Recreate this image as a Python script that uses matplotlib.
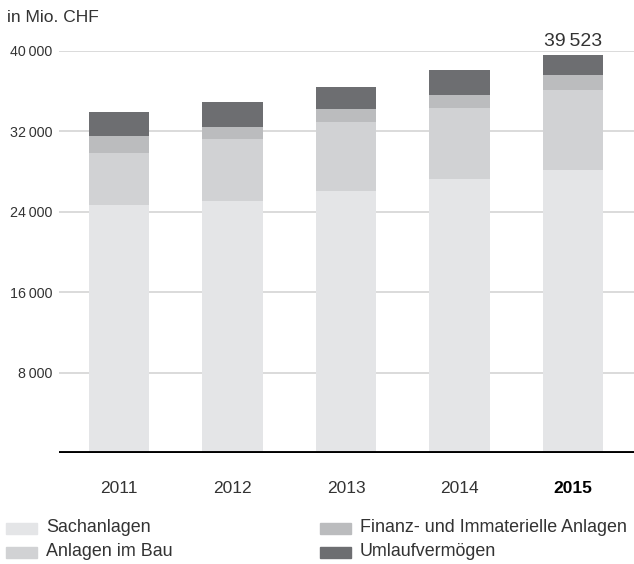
import matplotlib
matplotlib.use('Agg')
import matplotlib.pyplot as plt
from matplotlib.patches import Rectangle
import numpy as np

plt.rcParams['font.family'] = ['Liberation Sans', 'DejaVu Sans']

# Werte in Mio. CHF
jahre = ['2011', '2012', '2013', '2014', '2015']
sachanlagen = [24650, 25050, 26040, 27240, 28130]
anlagen_im_bau = [5170, 6160, 6860, 7080, 7950]
finanz_immat = [1690, 1190, 1290, 1270, 1490]
umlaufvermoegen = [2390, 2490, 2190, 2480, 1953]

serien = ['Sachanlagen', 'Anlagen im Bau', 'Finanz- und Immaterielle Anlagen', 'Umlaufvermögen']
farben = ['#e4e5e7', '#d1d2d4', '#bbbcbe', '#6d6e71']
y_ticks = [8000, 16000, 24000, 32000, 40000]

textfarbe = '#333333'

fig = plt.figure(figsize=(6.34, 5.64), dpi=100)
ax = fig.add_axes([59 / 634, 1 - 453 / 564, 1 - 59 / 634, (453 - 50.7) / 564])

x = np.arange(len(jahre))
unten = np.zeros(len(jahre))
for werte, farbe in zip([sachanlagen, anlagen_im_bau, finanz_immat, umlaufvermoegen], farben):
    ax.bar(x, werte, width=0.53, bottom=unten, color=farbe, zorder=2)
    unten += np.array(werte)

ax.set_xlim(-0.529, 4.537)
ax.set_ylim(0, 40000)

# Gitternetz und Grundlinie
for yt in y_ticks:
    ax.axhline(yt, color='#d4d4d4', lw=1.2, zorder=1)
ax.axhline(0, color='black', lw=2.8, zorder=3)

for s in ax.spines.values():
    s.set_visible(False)

ax.set_yticks(y_ticks)
ax.set_yticklabels([f'{v:,}'.replace(',', '\u2009') for v in y_ticks], fontsize=10.3, color=textfarbe)
ax.set_xticks(x)
ax.set_xticklabels(jahre, fontsize=12.5, color=textfarbe)
ax.get_xticklabels()[-1].set_fontweight('bold')
ax.get_xticklabels()[-1].set_color('black')
ax.tick_params(axis='y', length=0, pad=5)
ax.tick_params(axis='x', length=0, pad=20)

# Summe über dem letzten Balken
ax.annotate(f'{int(unten[-1]):,}'.replace(',', '\u2009'), (x[-1], unten[-1]),
            xytext=(0, 4), textcoords='offset points', ha='center', va='bottom',
            fontsize=14, color=textfarbe)

fig.text(7 / 634, 1 - 17 / 564, 'in Mio. CHF', fontsize=12.5, color=textfarbe, va='center', ha='left')

# Legende
positionen = [(6, 528), (6, 552), (320, 528), (320, 552)]
for (px, py), name, farbe in zip(positionen, serien, farben):
    fig.patches.append(Rectangle((px / 634, 1 - (py + 5.5) / 564), 31 / 634, 11 / 564,
                                 transform=fig.transFigure, color=farbe, figure=fig))
    fig.text((px + 40) / 634, 1 - py / 564, name, fontsize=12.9, color=textfarbe, va='center', ha='left')

fig.savefig('out.png', dpi=100)
